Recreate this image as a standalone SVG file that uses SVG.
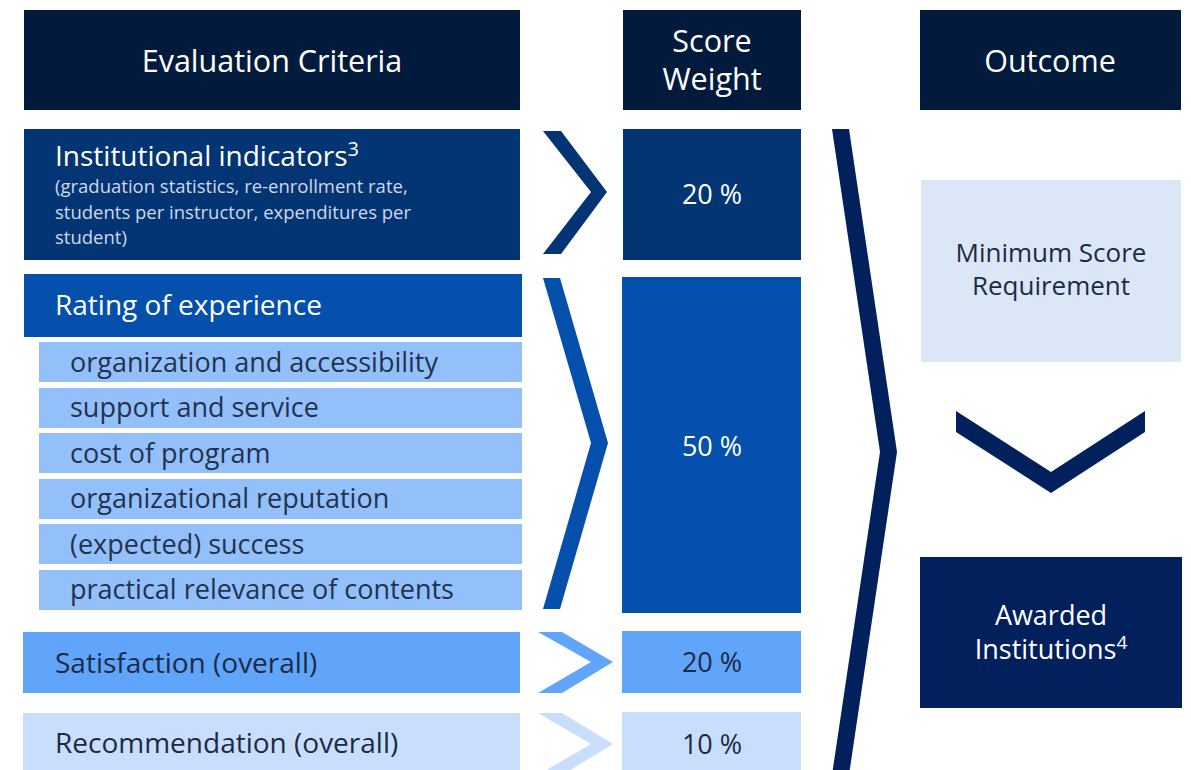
<svg xmlns="http://www.w3.org/2000/svg" width="1191" height="770" viewBox="0 0 1191 770">
<style>
text{font-family:"Open Sans","Noto Sans","Liberation Sans",sans-serif}
.hd{fill:#021b3c}
.hdt{fill:#ffffff;font-size:30.5px;text-anchor:middle}
.c1{fill:#033474}
.c2{fill:#0550ad}
.c3{fill:#60a5fa}
.c4{fill:#c9defc}
.sub{fill:#93c0fa}
.nv{fill:#02205c}
.lt{fill:#dbe7f6}
.w{fill:#ffffff}
.d{fill:#1b2b45}
.big{font-size:28px}
.sm{font-size:18.5px;fill:#cfd9ea}
.si{font-size:27px;fill:#23324d}
.pc{font-size:27px;text-anchor:middle}
.oc{font-size:27px;text-anchor:middle}
.oc2{font-size:26px;text-anchor:middle}
</style>
<rect width="1191" height="770" fill="#ffffff"/>
<g id="header-criteria"><rect class="hd" x="24" y="10" width="496" height="100"/><text class="hdt" x="272" y="72">Evaluation Criteria</text></g>
<g id="header-weight"><rect class="hd" x="623" y="10" width="178" height="100"/><text class="hdt" x="712" y="52">Score</text><text class="hdt" x="712" y="90">Weight</text></g>
<g id="header-outcome"><rect class="hd" x="920" y="10" width="261" height="100"/><text class="hdt" x="1050" y="72">Outcome</text></g>

<g id="institutional"><rect class="c1" x="24" y="129" width="496" height="131"/>
<text class="w big" x="55" y="166">Institutional indicators<tspan font-size="20" dy="-10">3</tspan></text>
<text class="sm" x="55" y="193">(graduation statistics, re-enrollment rate,</text>
<text class="sm" x="55" y="219">students per instructor, expenditures per</text>
<text class="sm" x="55" y="244">student)</text></g>
<g id="w20a"><rect class="c1" x="623" y="129" width="178" height="131"/><text class="w pc" x="712" y="204">20 %</text></g>

<g id="rating"><rect class="c2" x="24" y="274" width="498" height="63"/><text class="w big" x="55" y="315">Rating of experience</text>
<rect class="sub" x="39" y="342" width="483" height="40"/><text class="si" x="70" y="372">organization and accessibility</text>
<rect class="sub" x="39" y="388" width="483" height="40"/><text class="si" x="70" y="417">support and service</text>
<rect class="sub" x="39" y="433" width="483" height="40"/><text class="si" x="70" y="463">cost of program</text>
<rect class="sub" x="39" y="479" width="483" height="40"/><text class="si" x="70" y="508">organizational reputation</text>
<rect class="sub" x="39" y="524" width="483" height="40"/><text class="si" x="70" y="554">(expected) success</text>
<rect class="sub" x="39" y="570" width="483" height="40"/><text class="si" x="70" y="599">practical relevance of contents</text></g>
<g id="w50"><rect class="c2" x="622" y="277" width="179" height="336"/><text class="w pc" x="712" y="456">50 %</text></g>

<g id="satisfaction"><rect class="c3" x="23" y="632" width="497" height="61"/><text class="d big" x="55" y="673">Satisfaction (overall)</text></g>
<g id="w20b"><rect class="c3" x="622" y="631" width="179" height="62"/><text class="d pc" x="712" y="672">20 %</text></g>

<g id="recommendation"><rect class="c4" x="23" y="713" width="497" height="60"/><text class="d big" x="55" y="753">Recommendation (overall)</text></g>
<g id="w10"><rect class="c4" x="622" y="712" width="179" height="60"/><text class="d pc" x="712" y="754">10 %</text></g>

<g id="min-score"><rect class="lt" x="921" y="180" width="260" height="182"/><text class="d oc2" x="1051" y="262">Minimum Score</text><text class="d oc2" x="1051" y="295">Requirement</text></g>
<g id="awarded"><rect class="nv" x="920" y="557" width="262" height="151"/><text class="w oc" x="1051" y="625">Awarded</text><text class="w oc" x="1051" y="659">Institutions<tspan font-size="19" dy="-10">4</tspan></text></g>

<g id="connectors">
<polygon class="c1" points="543,131 561,131 607,192 561,254 543,254 591,192"/>
<polygon class="c2" points="543,278 560,278 608,443 560,609 543,609 591,443"/>
<polygon class="c3" points="538,632 562,632 613,662 562,693 538,693 591,662"/>
<polygon class="c4" points="538,713 562,713 613,744 562,775 538,775 591,744"/>
<polygon class="nv" points="832,129 849,129 897,452 849,775 832,775 880,452"/>
<polygon class="nv" points="956,411 1051,472 1145,411 1145,432 1051,493 956,432"/>
</g>
</svg>
